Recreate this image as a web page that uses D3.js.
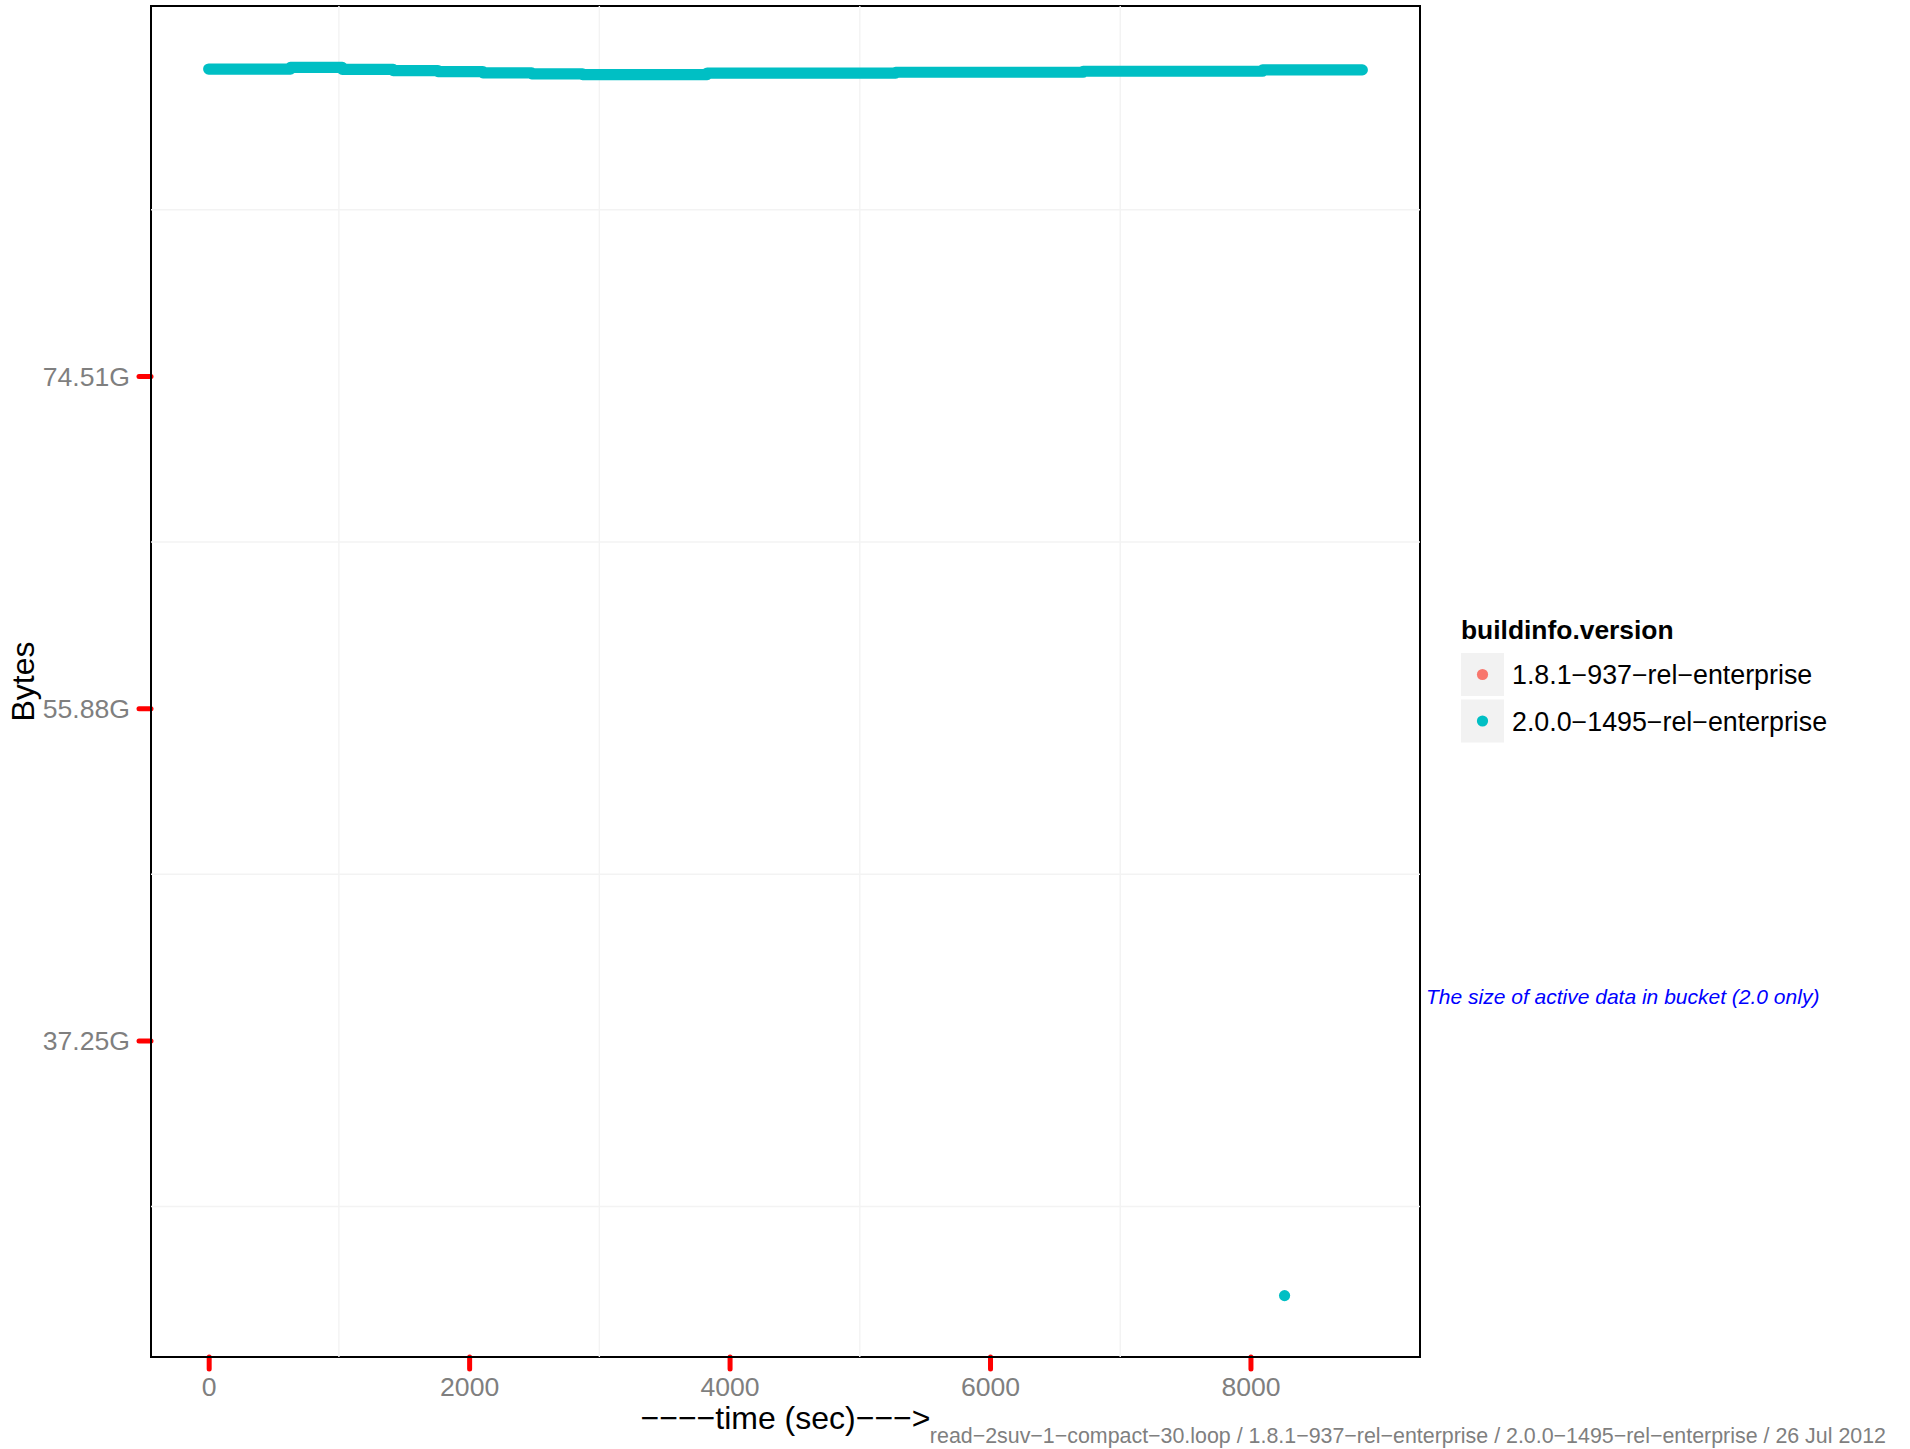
<!DOCTYPE html>
<html>
<head>
<meta charset="utf-8">
<script src="https://cdn.jsdelivr.net/npm/d3@7"></script>
<style>
  html, body { margin: 0; padding: 0; background: #ffffff; }
  svg { display: block; font-family: "Liberation Sans", Arial, Helvetica, sans-serif; }
</style>
</head>
<body>
<svg id="chart" width="1910" height="1449"></svg>
<script>
// Active data size in bucket over the run (bytes), version 2.0 only.
// Each entry marks where a new plateau starts; the last entry closes the run.
const activeTime  = [0, 628, 1026, 1417, 1761, 2106, 2481, 2871, 3828, 5276, 6715, 8093, 8859];
const activeBytes = [98.47e9, 98.57e9, 98.45e9, 98.38e9, 98.32e9, 98.24e9, 98.18e9,
                     98.14e9, 98.23e9, 98.28e9, 98.34e9, 98.42e9, 98.42e9];

// Single low sample late in the run
const dipTime  = [8262];
const dipBytes = [24.64e9];

// Build versions in the legend (1.8.1 reports no active-data stat)
const versions     = ["1.8.1\u2212937\u2212rel\u2212enterprise", "2.0.0\u22121495\u2212rel\u2212enterprise"];
const versionColor = ["#F8766D", "#00BFC4"];

// Axis breaks
const xTicks      = [0, 2000, 4000, 6000, 8000];
const xMinorTicks = [1000, 3000, 5000, 7000];
const yTicks      = [40e9, 60e9, 80e9];
const yMinorTicks = [30e9, 50e9, 70e9, 90e9];

const footerText = "read\u22122suv\u22121\u2212compact\u221230.loop / 1.8.1\u2212937\u2212rel\u2212enterprise / 2.0.0\u22121495\u2212rel\u2212enterprise / 26 Jul 2012";
const noteText   = "The size of active data in bucket (2.0 only)";

const svg = d3.select("#chart");
const panel = { left: 151, right: 1420, top: 6, bottom: 1357 };

// Data extents expanded by 5% on each side
function expanded(values) {
  const [lo, hi] = d3.extent(values);
  const pad = (hi - lo) * 0.05;
  return [lo - pad, hi + pad];
}
const x = d3.scaleLinear()
  .domain(expanded(activeTime.concat(dipTime)))
  .range([panel.left, panel.right]);
const y = d3.scaleLinear()
  .domain(expanded(activeBytes.concat(dipBytes)))
  .range([panel.bottom, panel.top]);

const gib = v => (v / Math.pow(2, 30)).toFixed(2) + "G";
const tickFont = 26.6;

svg.append("rect").attr("width", 1910).attr("height", 1449).attr("fill", "#ffffff");

// Axes with red tick marks
const xAxis = svg.append("g")
  .attr("transform", `translate(0,${panel.bottom})`)
  .call(d3.axisBottom(x).tickValues(xTicks).tickSize(12).tickPadding(8).tickFormat(d3.format("d")));
const yAxis = svg.append("g")
  .attr("transform", `translate(${panel.left},0)`)
  .call(d3.axisLeft(y).tickValues(yTicks).tickSize(12).tickPadding(9).tickFormat(gib));

[xAxis, yAxis].forEach(g => {
  g.select(".domain").remove();
  g.selectAll(".tick line")
    .attr("stroke", "#ff0000").attr("stroke-width", 5).attr("stroke-linecap", "round");
  g.selectAll(".tick text")
    .attr("fill", "#7f7f7f")
    .style("font-family", "'Liberation Sans', Arial, Helvetica, sans-serif")
    .style("font-size", tickFont + "px");
});
yAxis.selectAll(".tick text").attr("dy", "0.36em");
xAxis.selectAll(".tick text").attr("dy", "0.72em");

// Panel border
svg.append("rect")
  .attr("x", panel.left).attr("y", panel.top)
  .attr("width", panel.right - panel.left).attr("height", panel.bottom - panel.top)
  .attr("fill", "none").attr("stroke", "#000000").attr("stroke-width", 2);

// Minor grid lines, drawn across the border
const grid = svg.append("g").attr("stroke", "#f3f3f3").attr("stroke-width", 1.4);
grid.selectAll(".vx").data(xMinorTicks).join("line")
  .attr("x1", d => x(d)).attr("x2", d => x(d))
  .attr("y1", panel.top).attr("y2", panel.bottom);
grid.selectAll(".hy").data(yMinorTicks).join("line")
  .attr("x1", panel.left).attr("x2", panel.right)
  .attr("y1", d => y(d)).attr("y2", d => y(d));

// Dense samples of the 2.0 series form a continuous band
const pointR = 5.6;
const band = d3.line()
  .x((d, i) => x(activeTime[i]))
  .y((d, i) => y(activeBytes[i]))
  .curve(d3.curveStepAfter);
svg.append("path")
  .datum(activeTime)
  .attr("d", band)
  .attr("fill", "none")
  .attr("stroke", versionColor[1])
  .attr("stroke-width", pointR * 2)
  .attr("stroke-linecap", "round")
  .attr("stroke-linejoin", "round");

svg.selectAll(".dip").data(dipTime).join("circle")
  .attr("cx", d => x(d))
  .attr("cy", (d, i) => y(dipBytes[i]))
  .attr("r", pointR)
  .attr("fill", versionColor[1]);

// Axis titles
svg.append("text")
  .attr("x", (panel.left + panel.right) / 2).attr("y", 1429)
  .attr("text-anchor", "middle")
  .style("font-size", "32px").attr("fill", "#000")
  .text("\u2212\u2212\u2212\u2212time (sec)\u2212\u2212\u2212>");
svg.append("text")
  .attr("transform", `translate(34,${(panel.top + panel.bottom) / 2}) rotate(-90)`)
  .attr("text-anchor", "middle")
  .style("font-size", "32px").attr("fill", "#000")
  .text("Bytes");

// Legend
const legend = svg.append("g").attr("transform", "translate(1461,0)");
legend.append("text")
  .attr("x", 0).attr("y", 639)
  .style("font-size", "26.4px").style("font-weight", "bold").attr("fill", "#000")
  .text("buildinfo.version");
const keys = legend.selectAll(".key").data(versions).join("g")
  .attr("transform", (d, i) => `translate(0,${653 + i * 46.5})`);
keys.append("rect").attr("width", 43).attr("height", 43).attr("fill", "#f2f2f2");
keys.append("circle").attr("cx", 21.5).attr("cy", 21.5).attr("r", pointR)
  .attr("fill", (d, i) => versionColor[i]);
keys.append("text").attr("x", 51).attr("y", 31)
  .style("font-size", "26.8px").attr("fill", "#000")
  .text(d => d);

// Annotation beside the panel
svg.append("text")
  .attr("x", 1426).attr("y", 1004)
  .style("font-size", "21px").style("font-style", "italic").attr("fill", "#0000ff")
  .text(noteText);

// Run footer
svg.append("text")
  .attr("x", 1886).attr("y", 1443)
  .attr("text-anchor", "end")
  .style("font-size", "21.4px").attr("fill", "#7f7f7f")
  .text(footerText);
</script>
</body>
</html>
